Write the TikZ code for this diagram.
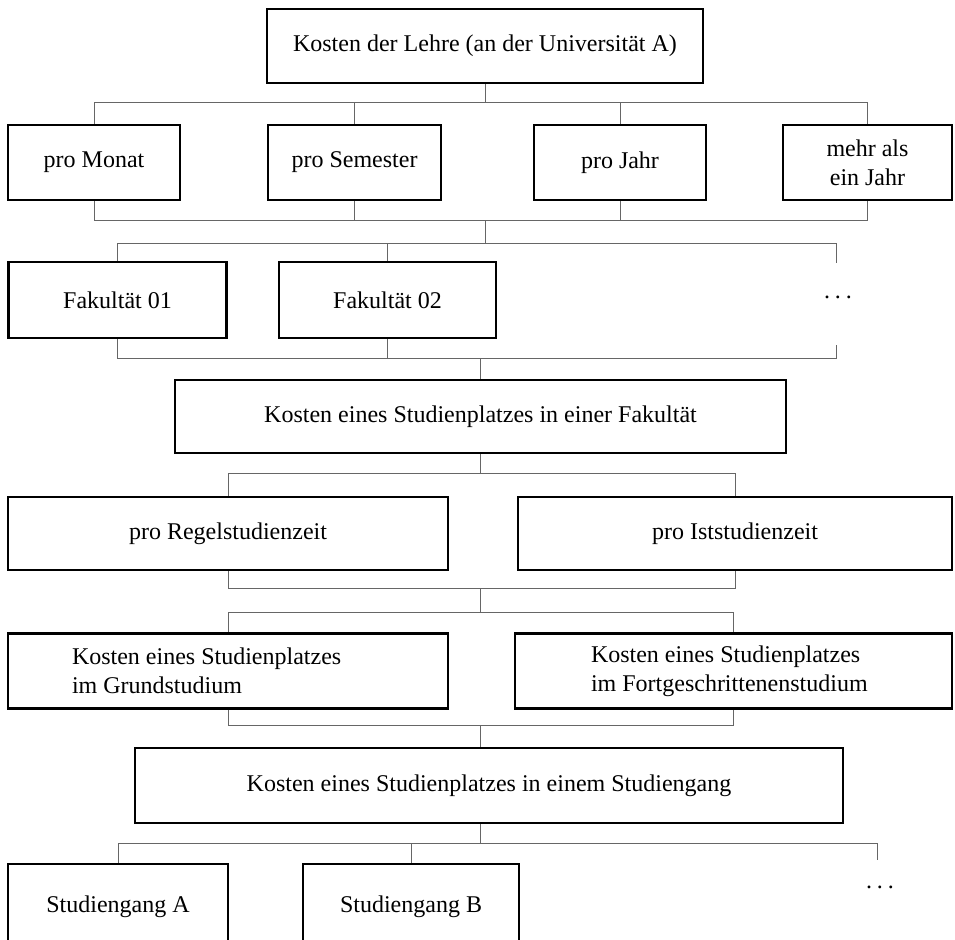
\documentclass[tikz,border=0pt]{standalone}
\usepackage{fontspec}
\setmainfont{Liberation Serif}

\tikzset{
  kbox/.style={draw,line width=1.4pt,rectangle,inner sep=0pt,align=center,
    font=\fontsize{12}{14.5}\selectfont},
  conn/.style={draw=black!60,line width=0.5pt}
}

\begin{document}
\begin{tikzpicture}[x=0.5pt,y=-0.5pt]
\useasboundingbox (0,0) rectangle (955,939);
\clip (0,0) rectangle (955,939);

% Kosten der Lehre
\node[kbox,minimum width=218pt,minimum height=37pt] (top) at (485,46) {Kosten der Lehre (an der Universit\"at A)};

% Zeitraum
\node[kbox,minimum width=86pt,minimum height=37.5pt] (pm) at (94,162.5) {pro Monat};
\node[kbox,minimum width=86.5pt,minimum height=37.5pt] (ps) at (354.5,162.5) {pro Semester};
\node[kbox,minimum width=86pt,minimum height=37.5pt] (pj) at (620,162.5) {pro Jahr};
\node[kbox,minimum width=84.5pt,minimum height=37.5pt] (ma) at (867.5,162.5) {mehr als\\ein Jahr};

% Fakultaeten
\node[kbox,minimum width=109pt,minimum height=38pt] (f1) at (117.5,300) {Fakult\"at 01};
\node[kbox,minimum width=108.5pt,minimum height=38pt] (f2) at (387.5,300) {Fakult\"at 02};
\node[font=\fontsize{12}{14.5}\selectfont] (dots1) at (838,297) {.\hspace{2.5pt}.\hspace{2.5pt}.};

\node[kbox,minimum width=305.5pt,minimum height=36.5pt] (fk) at (480.5,416.5) {Kosten eines Studienplatzes in einer Fakult\"at};

% Studienzeit
\node[kbox,minimum width=220pt,minimum height=36.5pt] (rs) at (228,533.5) {pro Regelstudienzeit};
\node[kbox,minimum width=217pt,minimum height=36.5pt] (is) at (735,533.5) {pro Iststudienzeit};

% Studienabschnitt
\node[kbox,minimum width=220pt,minimum height=37.5pt,inner xsep=32pt,text width=156pt,align=flush left] (gs) at (228,671) {Kosten eines Studienplatzes\\im Grundstudium};
\node[kbox,minimum width=218.5pt,minimum height=37.5pt,inner xsep=38pt,text width=142.5pt,align=flush left] (fs) at (733.5,671) {Kosten eines Studienplatzes\\im Fortgeschrittenenstudium};

\node[kbox,minimum width=354pt,minimum height=37.5pt] (sg) at (489,785.5) {Kosten eines Studienplatzes in einem Studiengang};

% Studiengaenge
\node[kbox,minimum width=110pt,minimum height=43pt] (sa) at (118,907) {Studiengang A};
\node[kbox,minimum width=108pt,minimum height=43pt] (sb) at (411,907) {Studiengang B};
\node[font=\fontsize{12}{14.5}\selectfont] (dots2) at (880,887) {.\hspace{2.5pt}.\hspace{2.5pt}.};

% Verbindungslinien
\coordinate (b1) at (0,102);
\coordinate (b2) at (0,220);
\coordinate (b3) at (0,243);
\coordinate (b4) at (0,358);
\coordinate (b5) at (0,473);
\coordinate (b6) at (0,588);
\coordinate (b7) at (0,612);
\coordinate (b8) at (0,725);
\coordinate (b9) at (0,843);
\coordinate (more1) at (836,263);
\coordinate (more1b) at (836,345);
\coordinate (more2) at (877,860);

\draw[conn] (top.south) -- (top.south |- b1);
\draw[conn] (pm.north |- b1) -- (ma.north |- b1);
\draw[conn] (pm.north) -- (pm.north |- b1);
\draw[conn] (ps.north) -- (ps.north |- b1);
\draw[conn] (pj.north) -- (pj.north |- b1);
\draw[conn] (ma.north) -- (ma.north |- b1);
\draw[conn] (pm.south) -- (pm.south |- b2);
\draw[conn] (ps.south) -- (ps.south |- b2);
\draw[conn] (pj.south) -- (pj.south |- b2);
\draw[conn] (ma.south) -- (ma.south |- b2);
\draw[conn] (pm.south |- b2) -- (ma.south |- b2);
\draw[conn] (top.south |- b2) -- (top.south |- b3);

\draw[conn] (f1.north) -- (f1.north |- b3) -- (more1 |- b3) -- (more1);
\draw[conn] (f2.north) -- (f2.north |- b3);
\draw[conn] (f1.south) -- (f1.south |- b4) -- (more1b |- b4) -- (more1b);
\draw[conn] (f2.south) -- (f2.south |- b4);
\draw[conn] (fk.north) -- (fk.north |- b4);

\draw[conn] (fk.south) -- (fk.south |- b5);
\draw[conn] (rs.north) -- (rs.north |- b5) -- (is.north |- b5) -- (is.north);
\draw[conn] (rs.south) -- (rs.south |- b6) -- (is.south |- b6) -- (is.south);
\draw[conn] (fk.south |- b6) -- (fk.south |- b7);
\draw[conn] (gs.north) -- (gs.north |- b7) -- (fs.north |- b7) -- (fs.north);
\draw[conn] (gs.south) -- (gs.south |- b8) -- (fs.south |- b8) -- (fs.south);
\draw[conn] (fk.south |- b8) -- (fk.south |- sg.north);

\draw[conn] (fk.south |- sg.south) -- (fk.south |- b9);
\draw[conn] (sa.north) -- (sa.north |- b9) -- (more2 |- b9) -- (more2);
\draw[conn] (sb.north) -- (sb.north |- b9);
\end{tikzpicture}
\end{document}
